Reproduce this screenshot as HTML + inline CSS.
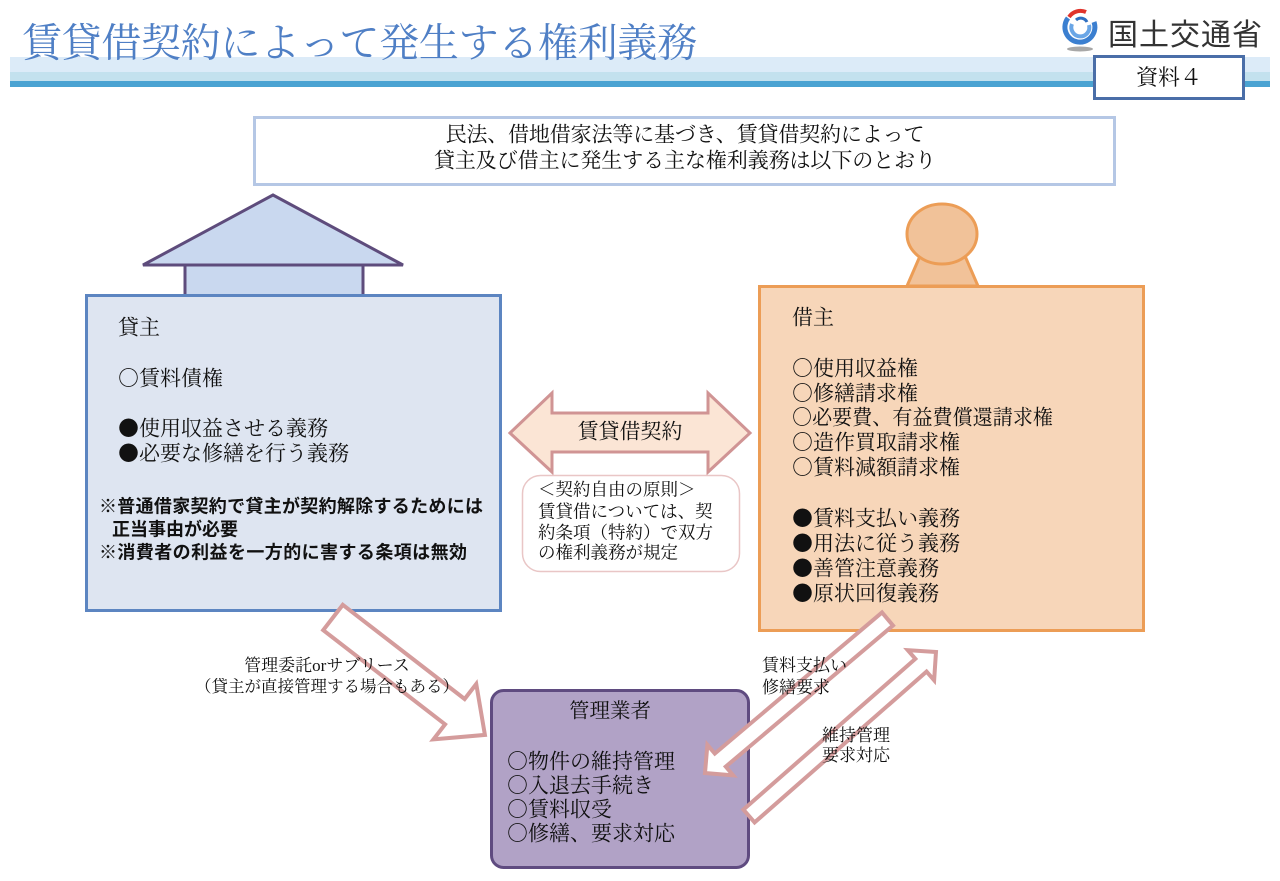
<!DOCTYPE html>
<html lang="ja">
<head>
<meta charset="utf-8">
<style>
  html, body { margin: 0; padding: 0; background: #ffffff; }
  body { width: 1280px; height: 881px; overflow: hidden; position: relative; }
  svg { display: block; }
  .m { font-family: "Liberation Serif", "Noto Serif CJK SC", serif; fill: #111; }
  .c { font-family: "Noto Serif CJK SC", serif; }
  .g { font-family: "Liberation Sans", "Noto Sans CJK JP", sans-serif; }
</style>
</head>
<body>
<svg width="1280" height="881" viewBox="0 0 1280 881" xmlns="http://www.w3.org/2000/svg">
  <!-- Title band -->
  <rect x="10" y="57" width="1260" height="15" fill="#dcebf8"/>
  <rect x="10" y="72" width="1260" height="9" fill="#c3e1ee"/>
  <rect x="10" y="81" width="1260" height="6" fill="#4aa3d2"/>

  <!-- Title -->
  <text class="m" x="22" y="56.5" font-size="40" style="fill:#4f7fc5" textLength="675" lengthAdjust="spacing">賃貸借契約によって発生する権利義務</text>

  <!-- Logo -->
  <g>
    <ellipse cx="1080" cy="49" rx="13" ry="2.5" fill="#a8a8a8"/>
    <path d="M1068 18 A15 15 0 1 0 1094 22" fill="none" stroke="#3b7fd0" stroke-width="5"/>
    <path d="M1072 24 A9 9 0 1 0 1089 25" fill="none" stroke="#6aa6e6" stroke-width="4"/>
    <path d="M1069 17 A14 14 0 0 1 1086 12" fill="none" stroke="#e0342c" stroke-width="4"/>
    <path d="M1076 20 A7 7 0 0 1 1087 22" fill="none" stroke="#2f6fc0" stroke-width="3"/>
  </g>
  <text class="g" x="1108" y="45" font-size="30" style="fill:#333" textLength="154" lengthAdjust="spacing">国土交通省</text>

  <!-- 資料4 box -->
  <rect x="1094.5" y="56.5" width="149" height="42" fill="#ffffff" stroke="#4a6ea8" stroke-width="3"/>
  <text class="m" x="1169" y="85" font-size="22" text-anchor="middle">資料４</text>

  <!-- Top description box -->
  <rect x="254.5" y="117.5" width="860" height="67" fill="#ffffff" stroke="#b5c7e5" stroke-width="3"/>
  <text class="m" x="685" y="141.5" font-size="21" text-anchor="middle" textLength="479" lengthAdjust="spacing">民法、借地借家法等に基づき、賃貸借契約によって</text>
  <text class="m" x="685" y="167.5" font-size="21" text-anchor="middle" textLength="502" lengthAdjust="spacing">貸主及び借主に発生する主な権利義務は以下のとおり</text>

  <!-- House (lessor) -->
  <rect x="185" y="265" width="178" height="32" fill="#c9d8ef" stroke="#5e4c7c" stroke-width="3"/>
  <polygon points="273,195 143,265 403,265" fill="#c9d8ef" stroke="#5e4c7c" stroke-width="3" stroke-linejoin="miter"/>
  <rect x="86.5" y="295.5" width="414" height="315" fill="#dee5f1" stroke="#5c85c1" stroke-width="3"/>

  <text class="m" x="118" y="334.6" font-size="21">貸主</text>
  <text class="m" x="118" y="385.6" font-size="21"><tspan class="c">○</tspan>賃料債権</text>
  <text class="m" x="118" y="435.6" font-size="21"><tspan class="c">●</tspan>使用収益させる義務</text>
  <text class="m" x="118" y="460.6" font-size="21"><tspan class="c">●</tspan>必要な修繕を行う義務</text>
  <text class="g" x="99" y="512.5" font-size="18" font-weight="bold" style="fill:#111" textLength="384" lengthAdjust="spacing">※普通借家契約で貸主が契約解除するためには</text>
  <text class="g" x="112" y="535.5" font-size="18" font-weight="bold" style="fill:#111">正当事由が必要</text>
  <text class="g" x="99" y="558.5" font-size="18" font-weight="bold" style="fill:#111" textLength="368" lengthAdjust="spacing">※消費者の利益を一方的に害する条項は無効</text>

  <!-- Person (lessee) -->
  <polygon points="920,256 965,256 978,286 907,286" fill="#f1c299" stroke="#ec9d56" stroke-width="3"/>
  <ellipse cx="942" cy="234" rx="35" ry="30" fill="#f1c299" stroke="#ec9d56" stroke-width="3"/>
  <rect x="759.5" y="286.5" width="384" height="344" fill="#f7d6b9" stroke="#ec9d56" stroke-width="3"/>

  <text class="m" x="792" y="324.6" font-size="21">借主</text>
  <text class="m" x="792" y="375.6" font-size="21"><tspan class="c">○</tspan>使用収益権</text>
  <text class="m" x="792" y="400.6" font-size="21"><tspan class="c">○</tspan>修繕請求権</text>
  <text class="m" x="792" y="424.6" font-size="21" textLength="261" lengthAdjust="spacingAndGlyphs"><tspan class="c">○</tspan>必要費、有益費償還請求権</text>
  <text class="m" x="792" y="449.6" font-size="21"><tspan class="c">○</tspan>造作買取請求権</text>
  <text class="m" x="792" y="474.6" font-size="21"><tspan class="c">○</tspan>賃料減額請求権</text>
  <text class="m" x="792" y="525.6" font-size="21"><tspan class="c">●</tspan>賃料支払い義務</text>
  <text class="m" x="792" y="550.6" font-size="21"><tspan class="c">●</tspan>用法に従う義務</text>
  <text class="m" x="792" y="575.6" font-size="21"><tspan class="c">●</tspan>善管注意義務</text>
  <text class="m" x="792" y="600.6" font-size="21"><tspan class="c">●</tspan>原状回復義務</text>

  <!-- Middle double arrow -->
  <polygon points="510,433 552,393 552,413 708,413 708,393 750,433 708,472 708,452 552,452 552,472" fill="#fbe5d5" stroke="#d09494" stroke-width="3" stroke-linejoin="miter"/>
  <text class="m" x="630" y="438.6" font-size="21" text-anchor="middle">賃貸借契約</text>

  <!-- Principle box -->
  <rect x="522.5" y="475.5" width="217" height="96" rx="18" ry="18" fill="#ffffff" stroke="#e9c6c6" stroke-width="1.5"/>
  <text class="m" x="538" y="495.3" font-size="17.5">＜契約自由の原則＞</text>
  <text class="m" x="538" y="517.3" font-size="17.5">賃貸借については、契</text>
  <text class="m" x="538" y="538.3" font-size="17.5">約条項（特約）で双方</text>
  <text class="m" x="538" y="558.3" font-size="17.5">の権利義務が規定</text>

  <!-- Management company box -->
  <rect x="491.5" y="690.5" width="257" height="177" rx="12" ry="12" fill="#b1a2c6" stroke="#5f4b80" stroke-width="3"/>
  <text class="m" x="610" y="717.4" font-size="20.5" text-anchor="middle">管理業者</text>
  <text class="m" x="507" y="768.5" font-size="21"><tspan class="c">○</tspan>物件の維持管理</text>
  <text class="m" x="507" y="792.5" font-size="21"><tspan class="c">○</tspan>入退去手続き</text>
  <text class="m" x="507" y="816.5" font-size="21"><tspan class="c">○</tspan>賃料収受</text>
  <text class="m" x="507" y="840.5" font-size="21"><tspan class="c">○</tspan>修繕、要求対応</text>

  <!-- Arrow 1: lessor -> management -->
  <polygon transform="translate(333,617.5) rotate(37.7)" points="0,-16 154,-16 154,-35 192,0 154,35 154,16 0,16" fill="#ffffff" stroke="#d49c9c" stroke-width="4" stroke-linejoin="miter"/>

  <!-- Arrow 2: lessee -> management -->
  <polygon transform="translate(887.5,619) rotate(139.84)" points="0,-8.5 218.8,-8.5 218.8,-20 238.8,0 218.8,20 218.8,8.5 0,8.5" fill="#ffffff" stroke="#d49c9c" stroke-width="4" stroke-linejoin="miter"/>

  <!-- Arrow 3: management -> lessee -->
  <polygon transform="translate(749,816) rotate(-41.25)" points="0,-8.5 228.7,-8.5 228.7,-20 248.7,0 228.7,20 228.7,8.5 0,8.5" fill="#ffffff" stroke="#d49c9c" stroke-width="4" stroke-linejoin="miter"/>

  <!-- Arrow labels -->
  <text class="m" x="327" y="671" font-size="17" text-anchor="middle">管理委託orサブリース</text>
  <text class="m" x="327" y="692" font-size="16.5" text-anchor="middle">（貸主が直接管理する場合もある）</text>
  <text class="m" x="762" y="671" font-size="17">賃料支払い</text>
  <text class="m" x="762" y="693" font-size="17">修繕要求</text>
  <text class="m" x="822" y="741" font-size="17">維持管理</text>
  <text class="m" x="822" y="761" font-size="17">要求対応</text>
</svg>
</body>
</html>
